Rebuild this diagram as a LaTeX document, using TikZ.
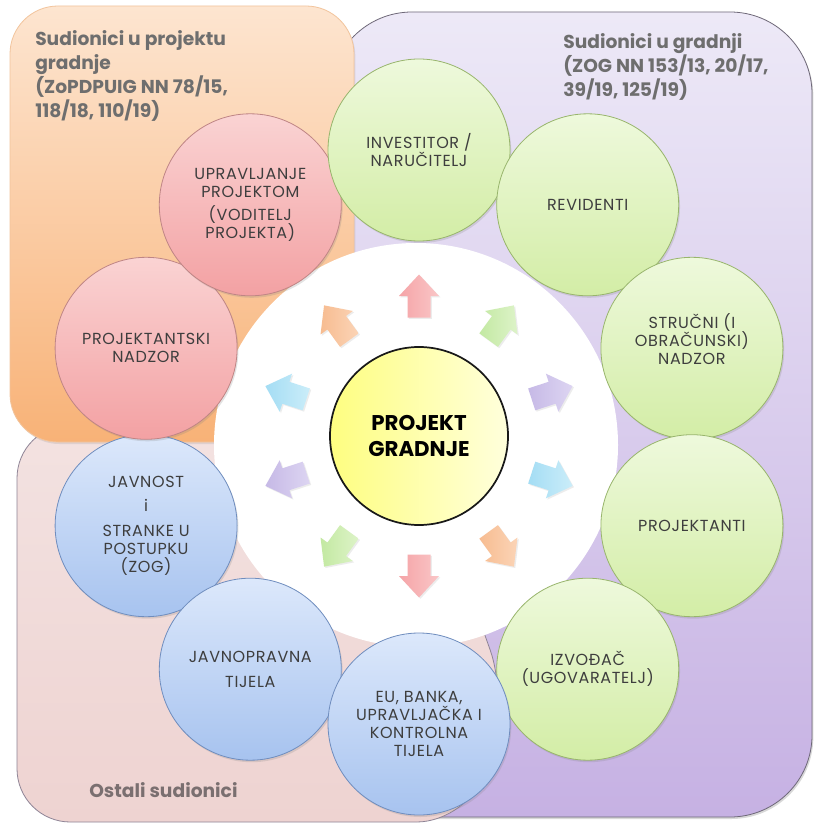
\documentclass[tikz,border=0pt]{standalone}
\usepackage{fontspec}
\setmainfont{Poppins}
\usetikzlibrary{shadows,calc}
\definecolor{txt}{HTML}{3E3E3E}
\definecolor{titlegrey}{HTML}{6E6E6E}
\definecolor{ostgrey}{HTML}{7A6F70}
\definecolor{purpTop}{HTML}{EDE9F7}
\definecolor{purpBot}{HTML}{C6B1E3}
\definecolor{purpLine}{HTML}{6E6878}
\definecolor{orTop}{HTML}{FDE5D0}
\definecolor{orBot}{HTML}{F8B277}
\definecolor{orLine}{HTML}{F2C49C}
\definecolor{pkTop}{HTML}{F3E2E1}
\definecolor{pkBot}{HTML}{EED3D1}
\definecolor{pkLine}{HTML}{8E8496}
\definecolor{redTop}{HTML}{FAD3D3}
\definecolor{redBot}{HTML}{F3A1A3}
\definecolor{redLine}{HTML}{BF8585}
\definecolor{grTop}{HTML}{EEF9DC}
\definecolor{grBot}{HTML}{D3EDA6}
\definecolor{grLine}{HTML}{98B56C}
\definecolor{blTop}{HTML}{DCE8FB}
\definecolor{blBot}{HTML}{A7C3EF}
\definecolor{blLine}{HTML}{6F8DBE}
\definecolor{yeL}{HTML}{FEFE80}
\definecolor{yeR}{HTML}{FFFFDC}
\definecolor{aRl}{HTML}{FAC6C7}\definecolor{aRd}{HTML}{F5A4A7}
\definecolor{aGl}{HTML}{DDF3C8}\definecolor{aGd}{HTML}{C3E9A2}
\definecolor{aPl}{HTML}{DDD5F2}\definecolor{aPd}{HTML}{C6B9E6}
\definecolor{aBl}{HTML}{CBEDF9}\definecolor{aBd}{HTML}{A4DDF4}
\definecolor{aOl}{HTML}{FBD4B6}\definecolor{aOd}{HTML}{F7BC91}
\begin{document}
\begin{tikzpicture}[x=0.75pt,y=-0.75pt,
  softshadow/.style={drop shadow={opacity=0.22,shadow xshift=1pt,shadow yshift=-1.5pt}},
  bubble/.style={circle,minimum size=136.5pt,inner sep=0pt,line width=0.6pt,
    align=center,font=\fontsize{12}{13.5}\selectfont\addfontfeature{LetterSpace=4},text=txt,softshadow},
  redb/.style={bubble,draw=redLine,top color=redTop,bottom color=redBot},
  greenb/.style={bubble,draw=grLine,top color=grTop,bottom color=grBot},
  blueb/.style={bubble,draw=blLine,top color=blTop,bottom color=blBot},
  title/.style={font=\bfseries\fontsize{14}{18}\selectfont,text=titlegrey,align=left,inner sep=0pt},
  arrowshape/.style={drop shadow={opacity=0.15,shadow xshift=1pt,shadow yshift=-1pt}}
]
\useasboundingbox (0,0) rectangle (813,823);
\fill[white] (0,0) rectangle (813,823);

% background groups
\draw[draw=purpLine,line width=0.6pt,top color=purpTop,bottom color=purpBot,
  rounded corners=61.5pt,drop shadow={opacity=0.3,shadow xshift=1pt,shadow yshift=-1.5pt}]
  (330,12) rectangle (812,817);
\draw[draw=pkLine,line width=0.6pt,top color=pkTop,bottom color=pkBot,rounded corners=40pt]
  (17,425) -- (410,425) -- (508,700) -- (470,822) -- (17,822) -- cycle;
\draw[draw=orLine,line width=0.6pt,top color=orTop,bottom color=orBot,rounded corners=36pt,
  drop shadow={opacity=0.18,shadow xshift=1pt,shadow yshift=-1.5pt}]
  (10,6) rectangle (354,442);

% group titles
\node[title,anchor=north west] (t1) at (35,30) {Sudionici u projektu\\gradnje\\(ZoPDPUIG NN 78/15,\\118/18, 110/19)};
\node[title,anchor=north west] (t2) at (563,33) {Sudionici u gradnji\\(ZOG NN 153/13, 20/17,\\39/19, 125/19)};
\node[title,text=ostgrey,anchor=base west] (t3) at (89,797) {Ostali sudionici};

% white disc
\fill[white] (416,445) circle (202);

% outer circles
\node[blueb] (javnost) at (146.1,525.7) {JAVNOST\\[5pt]i\\[5pt]STRANKE U\\POSTUPKU\\(ZOG)};
\node[redb] (pnadzor) at (146.1,348.3) {PROJEKTANTSKI\\NADZOR};
\node[redb] (upr) at (250.3,204.8) {UPRAVLJANJE\\PROJEKTOM\\[4pt](VODITELJ\\PROJEKTA)};
\node[greenb] (inv) at (419,150) {INVESTITOR /\\NARUČITELJ};
\node[greenb] (rev) at (587.7,204.8) {REVIDENTI};
\node[greenb] (str) at (691.9,348.3) {STRUČNI (I\\OBRAČUNSKI)\\NADZOR\\[0pt]~};
\node[greenb] (proj) at (691.9,525.7) {PROJEKTANTI};
\node[greenb] (izv) at (587.7,669.2) {IZVOĐAČ\\(UGOVARATELJ)};
\node[blueb] (jpt) at (250.3,669.2) {JAVNOPRAVNA\\[5pt]TIJELA};
\node[blueb] (eu) at (419,724) {EU, BANKA,\\UPRAVLJAČKA I\\KONTROLNA\\TIJELA};

% centre
\node[circle,minimum size=133.5pt,inner sep=0pt,draw=black!90,line width=1.3pt,
  left color=yeL,right color=yeR,align=center,
  font=\bfseries\fontsize{16}{19.5}\selectfont,text=black] (core) at (419,436) {PROJEKT\\GRADNJE};

% arrows
\foreach \a/\lc/\dc in {90/aRl/aRd,54/aGl/aGd,18/aPl/aPd,-18/aBl/aBd,-54/aOl/aOd,
                        -90/aRl/aRd,-126/aGl/aGd,-162/aPl/aPd,162/aBl/aBd,126/aOl/aOd}{
  \begin{scope}[shift={($(core.center)+({140*cos(\a)},{-140*sin(\a)})$)},rotate=\a]
    \shade[left color=\dc,right color=\lc,arrowshape]
      (-21.5,-11.5) -- (0,-11.5) -- (0,-20) -- (21.5,0) -- (0,20) -- (0,11.5) -- (-21.5,11.5) -- cycle;
  \end{scope}
}
\end{tikzpicture}
\end{document}
